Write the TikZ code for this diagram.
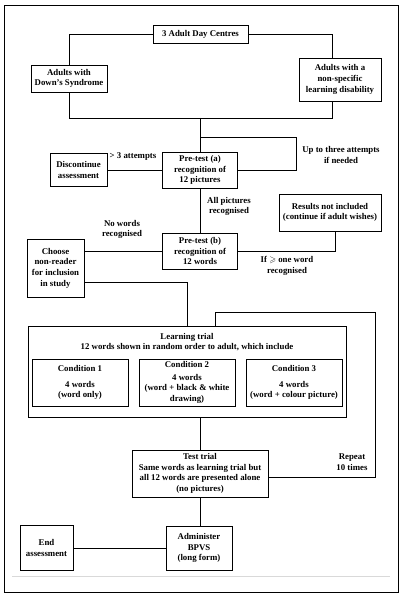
\documentclass[tikz,border=0pt]{standalone}
\usepackage{fontspec}
\setmainfont{Liberation Serif}
\usepackage{amssymb}

\begin{document}
\begin{tikzpicture}[
    x=1pt,
    y=-1pt,
    every node/.style={font=\fontsize{8.8}{10.6}\selectfont\bfseries},
    stage/.style={
        draw=black,
        line width=0.9pt,
        align=center,
        inner sep=1pt
    },
    link/.style={
        draw=black,
        line width=0.8pt
    },
    note/.style={
        align=center,
        inner sep=1pt
    }
]

\useasboundingbox (0,0) rectangle (400,596);

% ============================================================
% FRAME
% ============================================================

\draw[line width=1pt] (4,6) rectangle (398,592);
\draw[black!15, line width=0.5pt] (12,576) -- (390,576);

% ============================================================
% RECRUITMENT
% ============================================================

\node[
    stage,
    minimum width=95pt,
    minimum height=18pt
] (centres) at (200.5,34)
{3 Adult Day Centres};

\node[
    stage,
    minimum width=76pt,
    minimum height=27pt
] (downs) at (69,78.5)
{Adults with\\Down's Syndrome};

\node[
    stage,
    minimum width=82pt,
    minimum height=43pt
] (nonspec) at (340,79.5)
{Adults with a\\non-specific\\learning disability};

\coordinate (merge) at (200,118);

\draw[link] (centres.west) -| (downs.north);
\draw[link] (centres.east) -| ([xshift=-8pt]nonspec.north);
\draw[link] (downs.south) |- (merge);
\draw[link] ([xshift=-8pt]nonspec.south) |- (merge);

% ============================================================
% PRE-TESTS
% ============================================================

\node[
    stage,
    minimum width=75pt,
    minimum height=36pt
] (pretesta) at (200,170)
{Pre-test (a)\\recognition of\\12 pictures};

\node[
    stage,
    minimum width=57pt,
    minimum height=33pt
] (discont) at (78.5,170)
{Discontinue\\assessment};

\coordinate (retry) at (296,137);

\draw[link] (merge) -- (pretesta.north);
\draw[link] (pretesta.east) -| (retry) -- (retry -| pretesta.north);
\draw[link] (discont.east) -- (pretesta.west);

\node[note] (attempts) at (133,157) {> 3 attempts};
\node[note] (uptothree) at (341,155) {Up to three attempts\\if needed};

\node[
    stage,
    minimum width=75pt,
    minimum height=36pt
] (pretestb) at (200,251)
{Pre-test (b)\\recognition of\\12 words};

\node[
    stage,
    minimum width=102pt,
    minimum height=37pt
] (results) at (330,212.5)
{Results not included\\(continue if adult wishes)};

\node[
    stage,
    minimum width=57pt,
    minimum height=58pt
] (choose) at (55.5,268)
{Choose\\non-reader\\for inclusion\\in study};

\draw[link] (pretesta.south) -- (pretestb.north);
\draw[link] (pretestb.west) -- (pretestb.west -| choose.east);
\draw[link] (pretestb.east) -| ([xshift=5pt]results.south);

\node[note] (allpics) at (229,206.5) {All pictures\\recognised};
\node[note] (nowords) at (122,229.5) {No words\\recognised};
\node[note] (oneword) at (287,266) {If $\geqslant$ one word\\recognised};

% ============================================================
% LEARNING TRIAL
% ============================================================

\node[
    stage,
    minimum width=318pt,
    minimum height=91pt
] (learning) at (187,371.5)
{};

\node[note] (learntitle) at (187,342)
{Learning trial\\12 words shown in random order to adult, which include};

\node[
    stage,
    minimum width=96pt,
    minimum height=47pt
] (condone) at (80,382.5)
{Condition 1\\[5pt]4 words\\(word only)};

\node[
    stage,
    minimum width=96pt,
    minimum height=47pt
] (condtwo) at (187,382.5)
{Condition 2\\[2pt]4 words\\(word + black \& white\\drawing)};

\node[
    stage,
    minimum width=96pt,
    minimum height=47pt
] (condthree) at (294,382.5)
{Condition 3\\[5pt]4 words\\(word + colour picture)};

\draw[link] ([yshift=-14pt]choose.east) -| (learning.north);

% ============================================================
% TEST TRIAL
% ============================================================

\node[
    stage,
    minimum width=136pt,
    minimum height=47pt
] (test) at (200,473.5)
{Test trial\\Same words as learning trial but\\all 12 words are presented alone\\(no pictures)};

\coordinate (repeat) at (375,312);

\draw[link] (test.north) -- (test.north |- learning.south);
\draw[link] ([yshift=-4pt]test.east) -| (repeat) -| ([xshift=28pt]learning.north);

\node[note] (repeattxt) at (352,462) {Repeat\\10 times};

% ============================================================
% BPVS
% ============================================================

\node[
    stage,
    minimum width=66pt,
    minimum height=44pt
] (bpvs) at (199,548)
{Administer\\BPVS\\(long form)};

\node[
    stage,
    minimum width=53pt,
    minimum height=45pt
] (endassess) at (46.5,548)
{End\\assessment};

\draw[link] (test.south) -- (test.south |- bpvs.north);
\draw[link] (bpvs.west) -- (endassess.east);

\end{tikzpicture}
\end{document}
